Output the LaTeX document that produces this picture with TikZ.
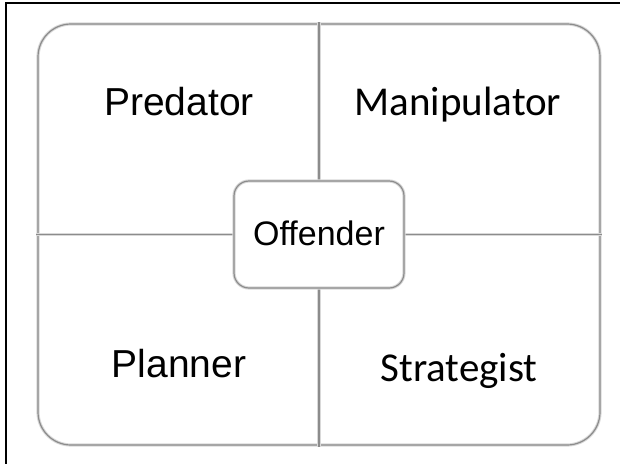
\documentclass[tikz,border=0pt]{standalone}
\usepackage{fontspec}
\setmainfont{Liberation Sans}
\newfontfamily\calibrifont{Carlito}
\usetikzlibrary{positioning}

\tikzset{
	grayline/.style={draw=black!15, line width=3.2pt, postaction={draw=black!45, line width=1.2pt}},
	roundbox/.style={grayline, rounded corners=#1, inner sep=0pt, fill=white},
	quadlabel/.style={anchor=base, inner sep=0pt}
}

\begin{document}
\begin{tikzpicture}[x=1pt, y=-1pt]
	\useasboundingbox (0,0) rectangle (620,463);

	% Outer border, cut off at right and bottom
	\draw[line width=2pt] (6,470) -- (6,3) -- (630,3);

	% Rounded frame and the cross through it
	\node[roundbox=33pt, minimum width=562pt, minimum height=421pt] (frame) at (319,234.5) {};
	\draw[grayline] (frame.north) -- (frame.south);
	\draw[grayline] (frame.west) -- (frame.east);

	% Centre box
	\node[roundbox=15pt, minimum width=170pt, minimum height=107pt] (offender) at (frame.center) {};
	\node[quadlabel, font=\fontsize{34}{40}\selectfont] (offtext) at (319,245) {Offender};

	% Quadrant labels
	\node[quadlabel, font=\fontsize{39}{46}\selectfont] (predator) at (179,115) {Predator};
	\node[quadlabel, font=\calibrifont\fontsize{41}{48}\selectfont] (manipulator) at (458,115) {Manipulator};
	\node[quadlabel, font=\fontsize{39}{46}\selectfont] (planner) at (179,377) {Planner};
	\node[quadlabel, font=\calibrifont\fontsize{41}{48}\selectfont] (strategist) at (459,381) {Strategist};
\end{tikzpicture}
\end{document}
